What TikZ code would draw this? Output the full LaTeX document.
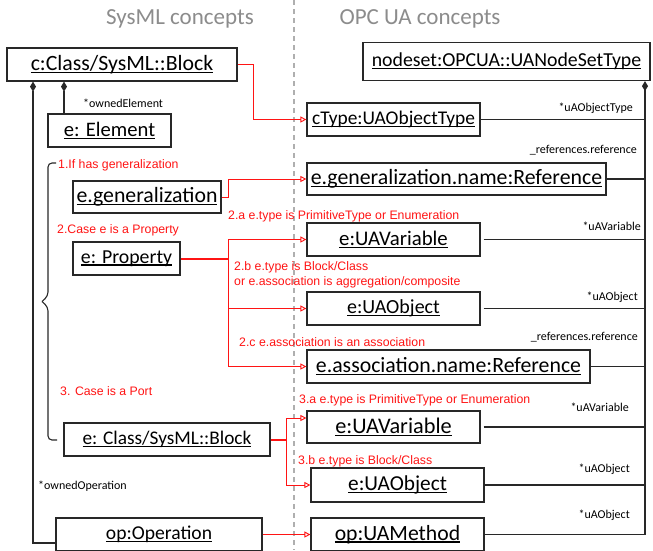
\documentclass[tikz,border=0pt]{standalone}
\usepackage{fontspec}
\setmainfont{Carlito}
\newfontfamily\notefont{Liberation Sans}
\usetikzlibrary{arrows.meta,calc}

% underlined box caption with the rule crossing the descenders
\newcommand{\undl}[1]{\setbox0\hbox{#1}\rlap{\rule[-2.4pt]{\wd0}{1.2pt}}\box0}

\definecolor{boxline}{RGB}{40,40,40}
\definecolor{titlegray}{RGB}{140,140,140}
\definecolor{guide}{RGB}{175,175,175}
\definecolor{mapred}{RGB}{255,20,20}

\tikzset{
  obj/.style={draw=boxline, line width=1.2pt, fill=white, inner sep=0pt,
              minimum height=33pt, font=\fontsize{21.8}{24}\selectfont},
  capsize/.style={font=\fontsize{#1}{24}\selectfont},
  rel/.style={draw=boxline, line width=1.1pt},
  comp/.style={rel, {Diamond[length=10pt,width=6pt]}-},
  rolelbl/.style={font=\fontsize{12}{14}\selectfont, text=black, inner sep=0pt},
  maparrow/.style={draw=mapred, line width=0.9pt,
                    -{Triangle[open,length=6pt,width=6pt,line width=0.9pt]}},
  mapstem/.style={draw=mapred, line width=2pt},
  cond/.style={font=\notefont\fontsize{12.3}{15}\selectfont, text=mapred,
               inner sep=0pt, anchor=west, align=left},
  heading/.style={font=\fontsize{23}{25}\selectfont, text=titlegray}
}

\begin{document}
\begin{tikzpicture}[x=1pt,y=-1pt]
\clip (0,0) rectangle (653,550);
\fill[white] (0,0) rectangle (653,550);

% column headings and the separating guide
\node[heading] (hsys) at (180,19) {SysML concepts};
\node[heading] (hopc) at (420,19) {OPC UA concepts};
\draw[guide, line width=1.5pt, dash pattern=on 5pt off 4pt] (294,0) -- (294,550);

% SysML side
\node[obj, minimum width=230pt] (cls)  at (122,64.5)   {\undl{c:Class/SysML::Block}};
\node[obj, capsize=20.6, minimum width=123pt] (elem) at (109.5,130.5) {\undl{e: Element}};
\node[obj, minimum width=148pt, minimum height=32pt] (gen) at (147,197) {\undl{e.generalization}};
\node[obj, capsize=19.8, minimum width=107pt] (prop) at (126.5,258.5) {\undl{e: Property}};
\node[obj, capsize=19.3, minimum width=206pt] (blk)  at (167,439.5)  {\undl{e: Class/SysML::Block}};
\node[obj, capsize=19.6, minimum width=206pt] (op)   at (159,534.5)  {\undl{op:Operation}};

% OPC UA side
\node[obj, capsize=19.8, minimum width=287pt, minimum height=38pt] (ns) at (506.5,61.5) {\undl{nodeset:OPCUA::UANodeSetType}};
\node[obj, capsize=19.4, minimum width=173pt] (ctype)  at (393.5,119.5) {\undl{cType:UAObjectType}};
\node[obj, minimum width=299pt, minimum height=32pt] (genref) at (456.5,179) {\undl{e.generalization.name:Reference}};
\node[obj, capsize=20.8, minimum width=173pt] (var1)   at (393.5,239.5) {\undl{e:UAVariable}};
\node[obj, capsize=20, minimum width=173pt] (obj1)   at (393.5,308.5) {\undl{e:UAObject}};
\node[obj, minimum width=283pt] (assoc)  at (448.5,366.5) {\undl{e.association.name:Reference}};
\node[obj, capsize=22.3, minimum width=173pt, minimum height=32pt] (var2) at (393.5,427) {\undl{e:UAVariable}};
\node[obj, capsize=21.3, minimum width=173pt, minimum height=34pt] (obj2) at (397.5,485) {\undl{e:UAObject}};
\node[obj, capsize=21.7, minimum width=173pt] (meth)   at (397.5,534.5) {\undl{op:UAMethod}};

% composition from the block
\coordinate (opx) at (33,0);
\coordinate (elx) at (64,0);
\draw[comp] (cls.south -| elx) -- (elem.north -| elx);
\draw[comp] (cls.south -| opx) |- ([yshift=-8.5pt]op.west);
\node[rolelbl, anchor=west] (lblel) at (83,103) {*ownedElement};
\node[rolelbl, anchor=west] (lblop) at (38,486) {*ownedOperation};

% brace grouping the three cases
\draw[boxline, line width=1.1pt, rounded corners=4pt]
  (56,163) -- (48,163) -- (48,296) -- (42,301.5);
\draw[boxline, line width=1.1pt, rounded corners=4pt]
  (42,301.5) -- (48,307) -- (48,440) -- (57,440);

% node set containment bus
\coordinate (busx) at (645,0);
\draw[comp] (ns.south -| busx) |- (meth.east);
\draw[rel] (ctype.east)  -- (ctype.east -| busx);
\draw[rel] (genref.east) -- (genref.east -| busx);
\draw[rel, shorten <=3pt] (var1.east) -- (var1.east -| busx);
\draw[rel, shorten <=3pt] (obj1.east) -- (obj1.east -| busx);
\draw[rel] (assoc.east)  -- (assoc.east -| busx);
\draw[rel, shorten <=3pt] (var2.east) -- (var2.east -| busx);
\draw[rel] (obj2.east)   -- (obj2.east -| busx);

\node[rolelbl, anchor=east] (r1) at (633,108) {*uAObjectType};
\node[rolelbl, anchor=east] (r2) at (637,150) {\_references.reference};
\node[rolelbl, anchor=east] (r3) at (641,226) {*uAVariable};
\node[rolelbl, anchor=east] (r4) at (638,297) {*uAObject};
\node[rolelbl, anchor=east] (r5) at (638,337) {\_references.reference};
\node[rolelbl, anchor=east] (r6) at (629,407) {*uAVariable};
\node[rolelbl, anchor=east] (r7) at (630,469) {*uAObject};
\node[rolelbl, anchor=east] (r8) at (630,515) {*uAObject};

% mapping rules
\draw[maparrow] (cls.east) -- ++(16,0) |- (ctype.west);
\draw[maparrow] (gen.east) -- ++(7,0) |- (genref.west);

\coordinate (pj) at ($(prop.east)+(48,0)$);
\draw[mapstem] (prop.east) -- (pj);
\draw[maparrow] (pj) |- (var1.west);
\draw[maparrow] (pj) |- (obj1.west);
\draw[maparrow] (pj) |- (assoc.west);

\coordinate (bj) at ($(blk.east)+(16,0)$);
\draw[mapstem] (blk.east) -- (bj);
\draw[maparrow] (bj) |- ([yshift=9pt]var2.west);
\draw[maparrow] (bj) |- (obj2.west);

\draw[maparrow] (op.east) -- (meth.west);

\node[cond] (c1)  at (58,165)  {1.If has generalization};
\node[cond] (c2)  at (57,230)  {2.Case e is a Property};
\node[cond] (c2a) at (228,216) {2.a e.type is PrimitiveType or Enumeration};
\node[cond] (c2b) at (234,274.5) {2.b e.type is Block/Class\\or e.association is aggregation/composite};
\node[cond] (c2c) at (239,342) {2.c e.association is an association};
\node[cond] (c3)  at (60,391)  {3. Case is a Port};
\node[cond] (c3a) at (299,400) {3.a e.type is PrimitiveType or Enumeration};
\node[cond] (c3b) at (298,461) {3.b e.type is Block/Class};
\end{tikzpicture}
\end{document}
